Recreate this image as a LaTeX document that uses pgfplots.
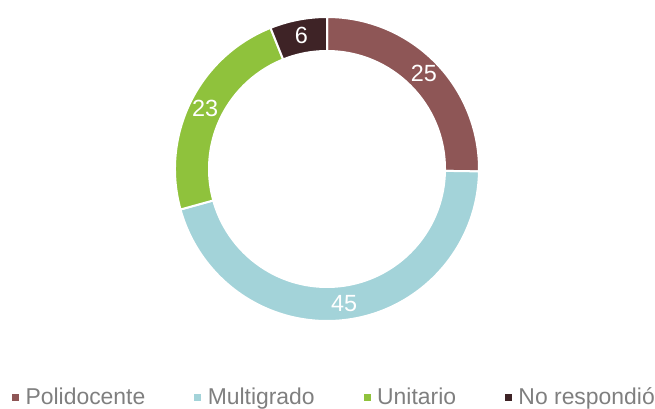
\documentclass[border=0pt]{standalone}
\usepackage{pgfplots}
\pgfplotsset{compat=1.18}
\usepackage{fontspec}
\setmainfont{Liberation Sans}
\definecolor{cPoli}{HTML}{8E5656}
\definecolor{cMulti}{HTML}{A3D3D9}
\definecolor{cUni}{HTML}{8FC23C}
\definecolor{cNo}{HTML}{3E2326}
\definecolor{txtgray}{HTML}{7F7F7F}
\begin{document}
\begin{tikzpicture}
\begin{axis}[
  width=655bp, height=409bp, scale only axis,
  xmin=0, xmax=655, ymin=0, ymax=409,
  hide axis, clip=false,
  legend columns=4,
  legend style={draw=none, fill=none, at={(333.5bp,2bp)}, anchor=south,
    font=\fontsize{23}{26}\selectfont\color{txtgray},
    /tikz/every even column/.append style={column sep=49bp},
    /tikz/every odd column/.append style={column sep=7bp},
    inner sep=0pt, nodes={inner sep=0pt, text depth=0.25em}},
  legend image code/.code={\fill[#1] (0bp,-3bp) rectangle (6bp,3bp);},
]
\gdef\cum{0}
\foreach \v/\c in {25/cPoli, 45/cMulti, 23/cUni, 6/cNo} {
  \pgfmathsetmacro\a{90-\cum/99*360}
  \pgfmathsetmacro\b{90-(\cum+\v)/99*360}
  \edef\tmp{\noexpand\fill[\c, draw=white, line width=2bp]
    (axis cs:327,240) ++(\a:152bp) arc[start angle=\a, end angle=\b, radius=152bp]
    -- (axis cs:327,240) -- cycle;}
  \tmp
  \pgfmathsetmacro\newcum{\cum+\v}
  \xdef\cum{\newcum}
}
\fill[white] (axis cs:327,240) circle[radius=119bp];
\gdef\cum{0}
\foreach \v in {25, 45, 23, 6} {
  \pgfmathsetmacro\m{90-(\cum+\v/2)/99*360}
  \edef\tmp{\noexpand\node[white, font=\noexpand\fontsize{23.5}{27}\noexpand\selectfont]
    at ([shift={(\m:136bp)}]axis cs:327,240) {\v};}
  \tmp
  \pgfmathsetmacro\newcum{\cum+\v}
  \xdef\cum{\newcum}
}
\addlegendimage{cPoli}\addlegendentry{Polidocente}
\addlegendimage{cMulti}\addlegendentry{Multigrado}
\addlegendimage{cUni}\addlegendentry{Unitario}
\addlegendimage{cNo}\addlegendentry{No respondió}
\end{axis}
\pgfresetboundingbox
\useasboundingbox (current axis.south west) rectangle (current axis.north east);
\end{tikzpicture}
\end{document}
